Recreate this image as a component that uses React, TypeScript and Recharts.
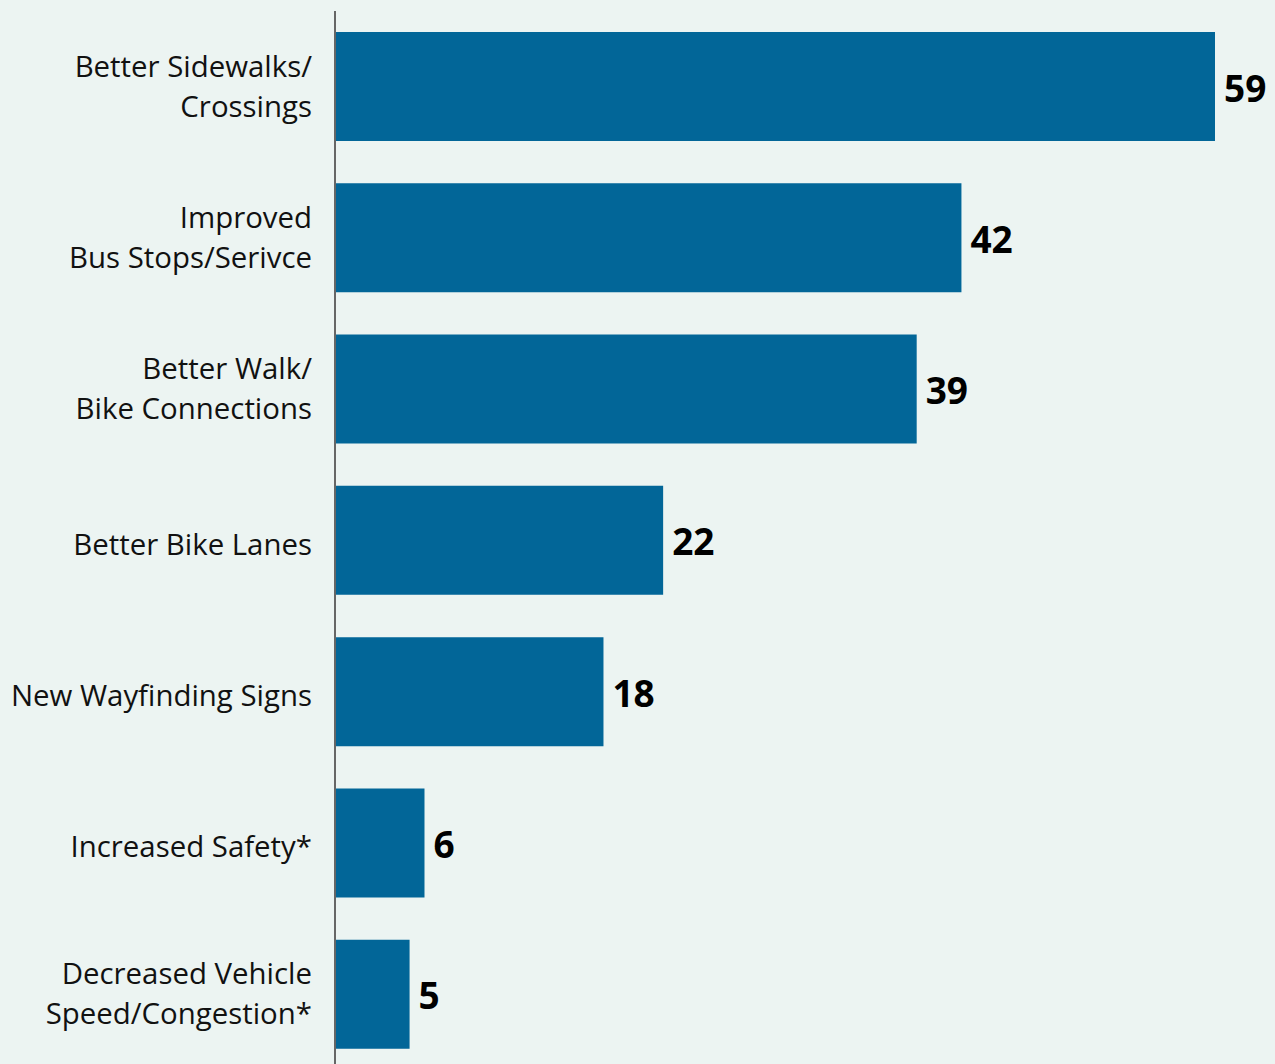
import { BarChart, Bar, XAxis, YAxis, LabelList } from 'recharts';

const categories = [
  'Better Sidewalks/\nCrossings',
  'Improved\nBus Stops/Serivce',
  'Better Walk/\nBike Connections',
  'Better Bike Lanes',
  'New Wayfinding Signs',
  'Increased Safety*',
  'Decreased Vehicle\nSpeed/Congestion*',
];
const counts = [59, 42, 39, 22, 18, 6, 5];

const data = categories.map((name, i) => ({ name, value: counts[i] }));

const FONT = '"Open Sans", sans-serif';

// two-line category labels, right aligned against the axis
const CategoryTick = ({ x, y, payload }: any) => {
  const lines = String(payload.value).split('\n');
  const first = lines.length === 1 ? 14 : -10;
  return (
    <text x={x} y={y} textAnchor="end" fill="#111" fontSize={29.4} fontFamily={FONT}>
      {lines.map((l, i) => (
        <tspan key={i} x={x} y={y + first + i * 40}>
          {l}
        </tspan>
      ))}
    </text>
  );
};

const ValueLabel = ({ x, y, width, height, value }: any) => (
  <text
    x={x + width + 9}
    y={y + height / 2 + 15}
    fill="#000"
    fontSize={37}
    fontWeight={700}
    fontFamily={FONT}
  >
    {value}
  </text>
);

export default function App() {
  return (
    <div
      style={{
        position: 'absolute',
        left: 0,
        top: 0,
        width: 1275,
        height: 1064,
        overflow: 'hidden',
        background: '#ecf4f2',
      }}
    >
      <BarChart
        width={1275}
        height={1070}
        data={data}
        layout="vertical"
        margin={{ top: 11, right: 60, bottom: 0, left: 0 }}
      >
        <XAxis type="number" domain={[0, 59]} hide />
        <YAxis
          type="category"
          dataKey="name"
          width={335}
          axisLine={{ stroke: '#666', strokeWidth: 2 }}
          tickLine={false}
          tickSize={0}
          tickMargin={23}
          tick={<CategoryTick />}
          interval={0}
        />
        <Bar dataKey="value" fill="#026698" barSize={109} isAnimationActive={false}>
          <LabelList dataKey="value" content={<ValueLabel />} />
        </Bar>
      </BarChart>
    </div>
  );
}
